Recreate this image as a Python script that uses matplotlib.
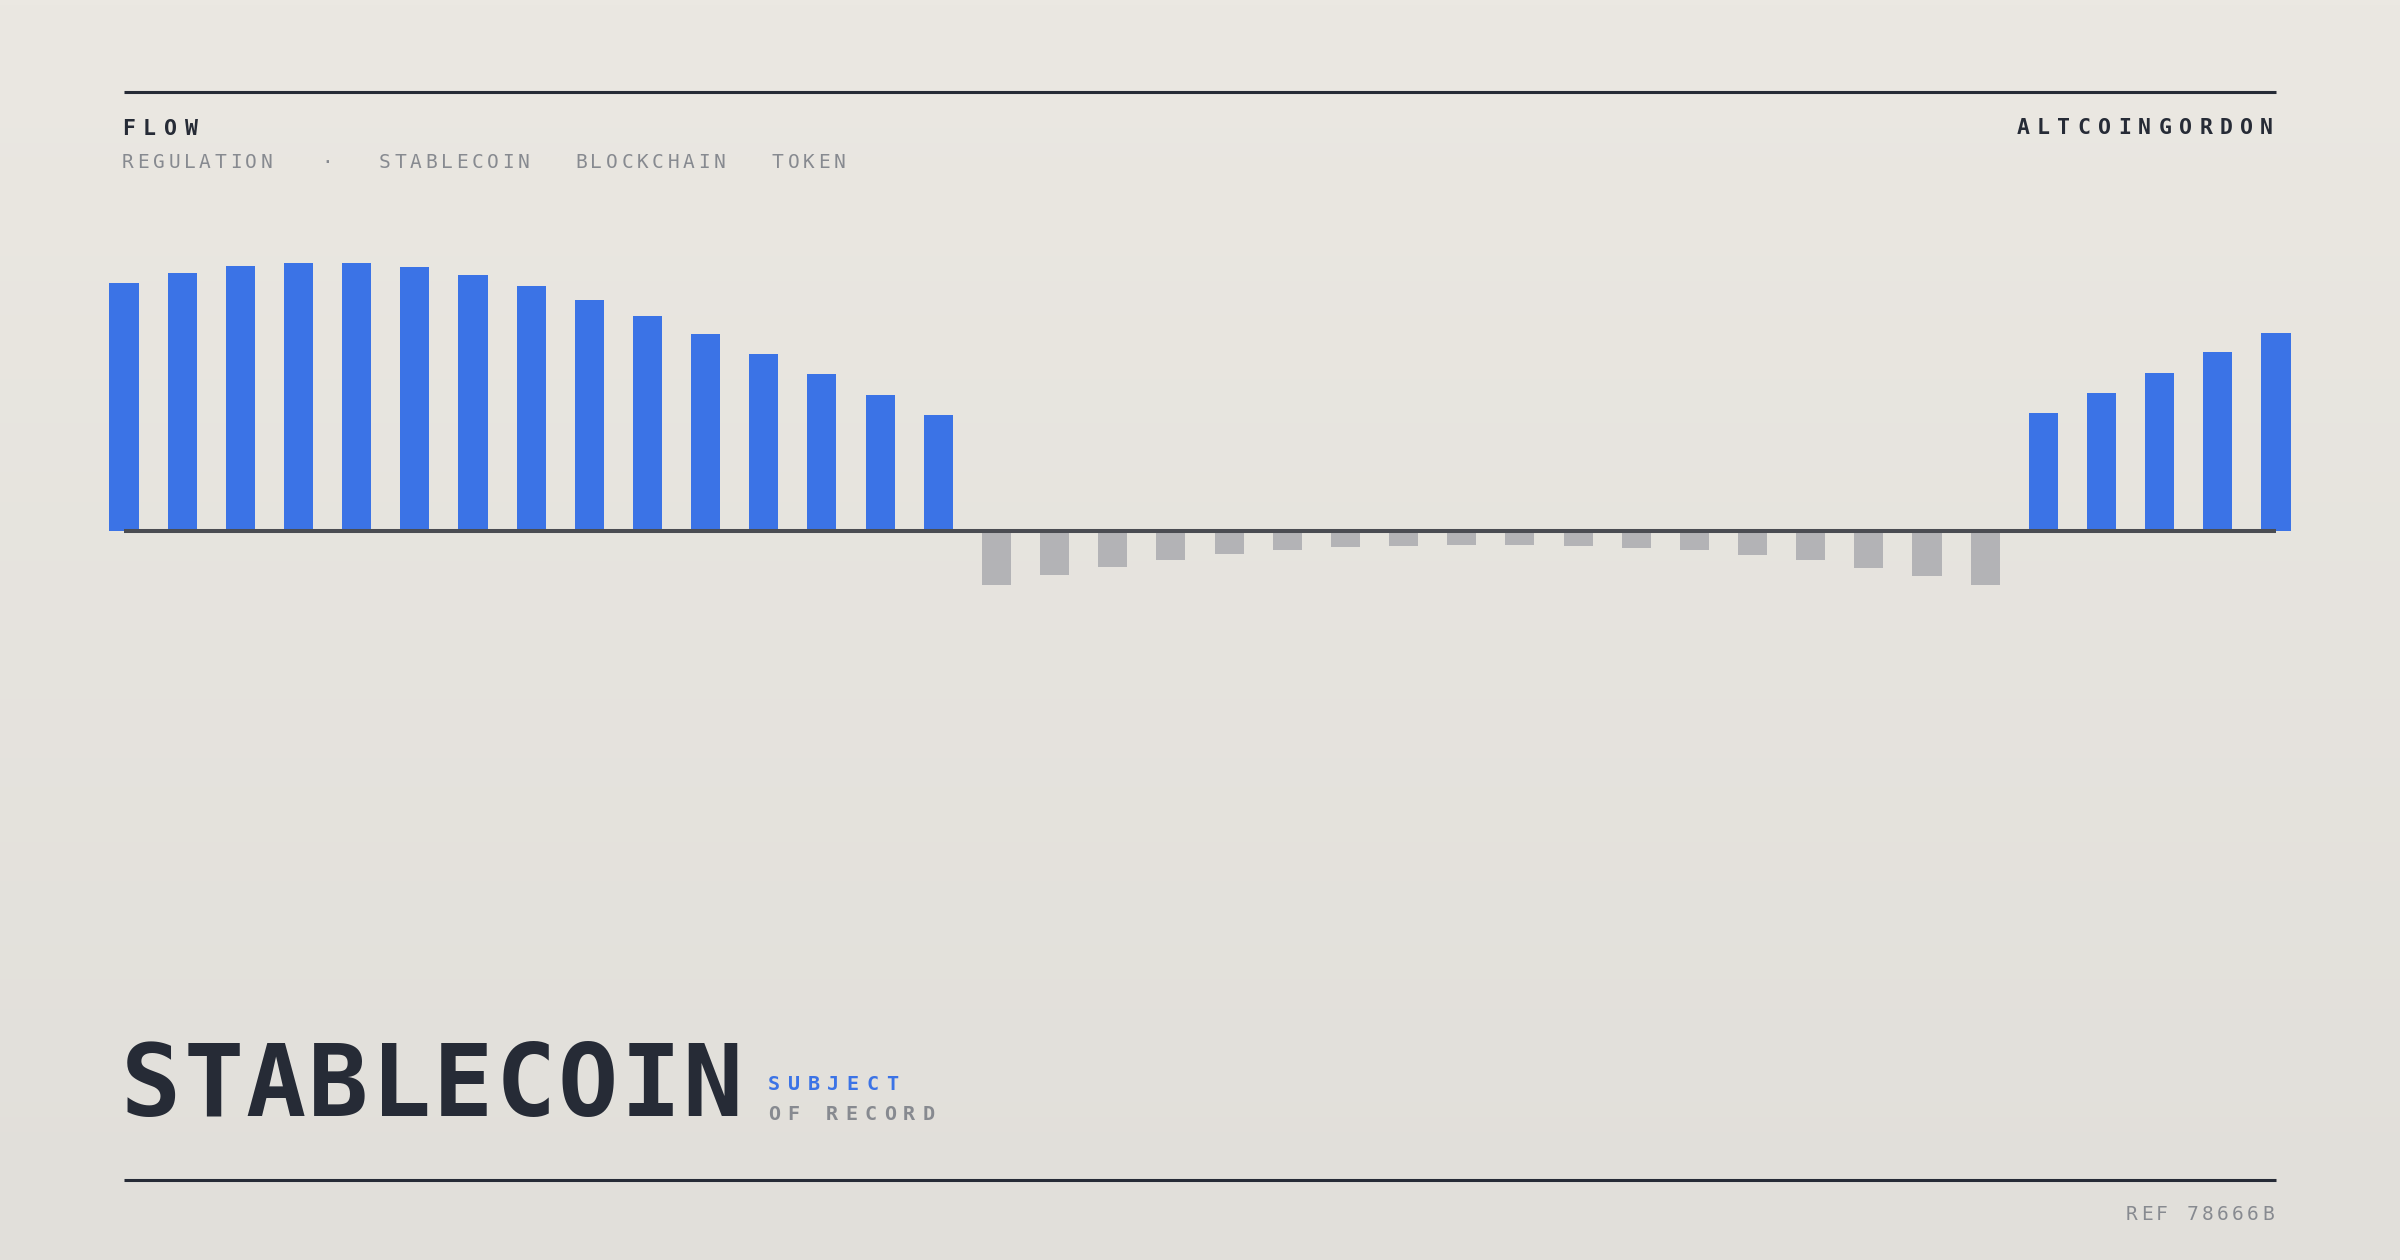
import numpy as np
import matplotlib
matplotlib.use("Agg")
import matplotlib.pyplot as plt
from matplotlib.lines import Line2D

W, H = 2400, 1260

# bar values (relative flow, peak = 100)
rise = [92.5, 96.3, 98.9, 100.0, 100.0, 98.5, 95.5, 91.4, 86.2, 80.2,
        73.5, 66.0, 58.6, 50.7, 43.3]
dip = [-20.1, -16.4, -13.4, -10.8, -8.6, -7.1, -6.0, -5.6, -5.2, -5.2,
       -5.6, -6.3, -7.1, -9.0, -10.8, -13.8, -16.8, -20.1]
recover = [44.0, 51.5, 59.0, 66.8, 73.9]
values = rise + dip + recover

header_left = "FLOW"
header_right = "ALTCOINGORDON"
tags = ["REGULATION", "·", "STABLECOIN", "BLOCKCHAIN", "TOKEN"]
title = "STABLECOIN"
sub1 = "SUBJECT"
sub2 = "OF RECORD"
ref = "REF 78666B"

DARK = "#262b36"
GREY_TXT = "#878a90"
BLUE = "#3b73e6"
GREY_BAR = "#b3b3b6"
MONO = "DejaVu Sans Mono"

fig = plt.figure(figsize=(W / 100, H / 100), dpi=100)

# background gradient
bg = fig.add_axes([0, 0, 1, 1], zorder=-10)
grad = np.linspace(0, 1, 256)[:, None]
top = np.array([0xeb, 0xe8, 0xe2]) / 255
bot = np.array([0xe1, 0xdf, 0xda]) / 255
img = top[None, None, :] * (1 - grad[..., None]) + bot[None, None, :] * grad[..., None]
bg.imshow(img, aspect="auto", extent=[0, 1, 0, 1])
bg.set_axis_off()


def px(x, y):
    return x / W, 1 - y / H


def tracked(x, y, s, size, step, color, weight="normal", align="left"):
    adv = 0.602 * size * 100 / 72
    if align == "right":
        x = x - (len(s) - 1) * step - adv
    for i, ch in enumerate(s):
        fx, fy = px(x + i * step, y)
        fig.text(fx, fy, ch, fontsize=size, family=MONO, weight=weight,
                 color=color, ha="left", va="baseline")


# rules
for yy in (92, 1180):
    fig.add_artist(Line2D([124 / W, 2276 / W], [1 - yy / H] * 2, color=DARK,
                          lw=2.2, solid_capstyle="butt"))

# chart
n = len(values)
ax = fig.add_axes([124 / W, 1 - 600 / H, (2276 - 124) / W, 350 / H])
ax.set_xlim(0, n - 1)
ax.set_ylim(-25.75, 104.85)
ax.set_axis_off()
colors = [BLUE if v > 0 else GREY_BAR for v in values]
ax.bar(np.arange(n), values, width=0.5, color=colors, clip_on=False, zorder=2)
ax.plot([0, n - 1], [0, 0], color="#4a4c52", lw=2.9, solid_capstyle="butt",
        zorder=3, clip_on=False)

# header
tracked(122, 135, header_left, 15.5, 21, DARK, weight="bold")
tracked(2273, 134, header_right, 15.5, 20.3, DARK, weight="bold", align="right")
tag_x = [122, 321, 379, 575, 772]
for t, xx in zip(tags, tag_x):
    tracked(xx, 168, t, 14, 15.4, GREY_TXT)

# title block
tracked(121, 1116, title, 72, 62.4, DARK, weight="bold")
tracked(768, 1090, sub1, 14.5, 19.7, BLUE, weight="bold")
tracked(768, 1120, sub2, 14.5, 19.3, GREY_TXT, weight="bold")

# footer
tracked(2274, 1220, ref, 14, 15.2, GREY_TXT, align="right")

fig.savefig("out.png", dpi=100)
